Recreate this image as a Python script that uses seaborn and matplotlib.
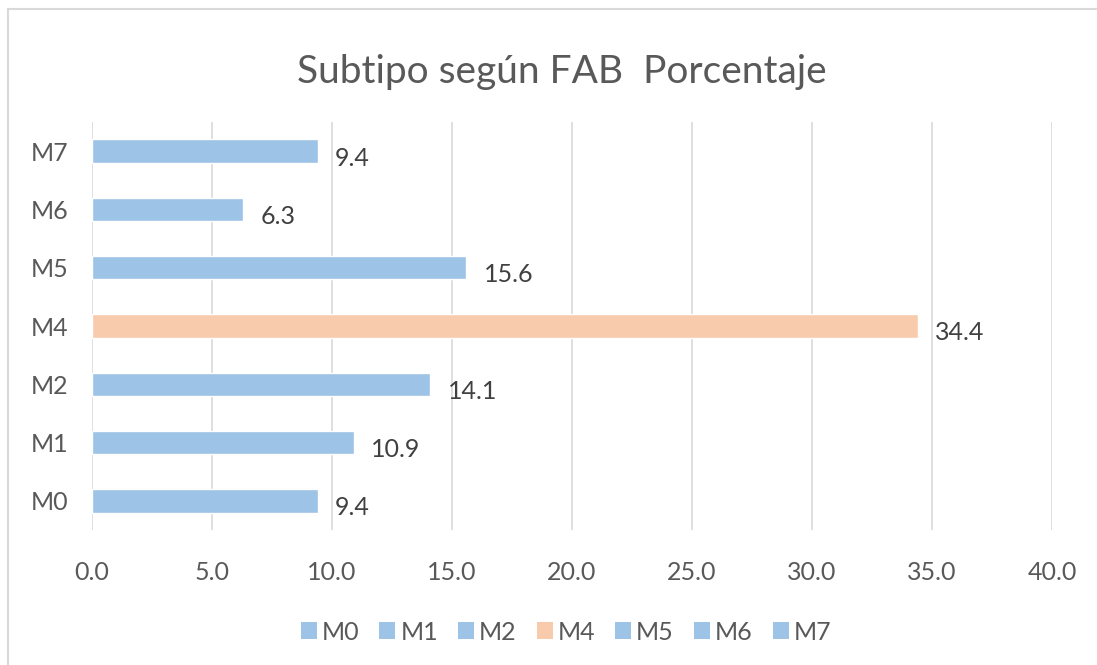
import matplotlib
matplotlib.use("Agg")
import matplotlib.pyplot as plt
import seaborn as sns
import pandas as pd
from matplotlib.patches import Patch, Rectangle

categories = ["M0", "M1", "M2", "M4", "M5", "M6", "M7"]
values = [9.4, 10.9, 14.1, 34.4, 15.6, 6.3, 9.4]
xticks = [0, 5, 10, 15, 20, 25, 30, 35, 40]
title = "Subtipo según FAB  Porcentaje"

blue = "#9DC3E6"
orange = "#F8CBAD"
colors = {c: (orange if c == "M4" else blue) for c in categories}

sns.set_theme(style="white")
plt.rcParams["font.family"] = ["Lato", "DejaVu Sans"]
text_color = "#595959"

df = pd.DataFrame({"cat": categories, "val": values})
order = categories[::-1]

fig = plt.figure(figsize=(10.97, 6.65), dpi=100)
ax = fig.add_axes([92/1097, 1-530/665, (1052-92)/1097, (530-122)/665])

sns.barplot(data=df, x="val", y="cat", hue="cat", order=order, hue_order=categories,
            palette=colors, width=0.40, legend=False, ax=ax, saturation=1)

ax.set_xlim(0, 40)
ax.set_ylim(6.5, -0.5)
ax.set_xticks(xticks)
ax.set_xticklabels([f"{t:.1f}" for t in xticks])
ax.grid(axis="x", color="#D9D9D9", linewidth=1.2)
ax.set_axisbelow(True)
for s in ax.spines.values():
    s.set_visible(False)
ax.set_xlabel("")
ax.set_ylabel("")
ax.tick_params(axis="y", length=0, pad=17, labelsize=18, labelcolor=text_color)
ax.tick_params(axis="x", length=0, pad=22, labelsize=18, labelcolor=text_color)

for i, c in enumerate(order):
    v = values[categories.index(c)]
    ax.text(v + 0.72, i + 0.12, f"{v:.1f}", va="center", ha="left",
            fontsize=18, color="#404040")

fig.text(0.512, 1-72/665, title, ha="center", va="center", fontsize=28, color=text_color)

handles = [Patch(facecolor=colors[c], edgecolor="none", label=c) for c in categories]
fig.legend(handles=handles, loc="center", bbox_to_anchor=(566/1097, 1-632/665), ncol=7,
           frameon=False, handlelength=0.64, handleheight=0.64, handletextpad=0.2,
           columnspacing=0.8, fontsize=18, labelcolor=text_color)

fig.patches.append(Rectangle((8/1097, -0.1), 1.2, 1 + 0.1 - 9/665, transform=fig.transFigure,
                             fill=False, edgecolor="#D9D9D9", linewidth=1.5))

fig.savefig("out.png", dpi=100)
